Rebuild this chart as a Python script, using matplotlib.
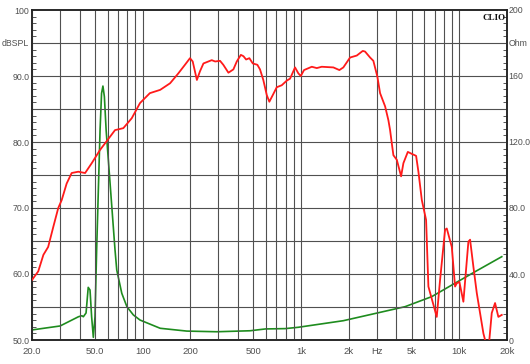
import matplotlib
matplotlib.use("Agg")
import matplotlib.pyplot as plt
from matplotlib.ticker import FixedLocator, NullFormatter

# SPL response (red)
spl_freq = [20, 21.9, 23.6, 25.3, 27.3, 29.3, 30.8, 33.1, 35.6, 39.2, 43.3, 47.7,
            53.8, 66.9, 75.5, 85.3, 96.2, 111, 129, 149, 168, 185, 199, 207, 220,
            230, 242, 260, 273, 287, 308, 323, 348, 374, 393, 417, 433, 450, 472,
            496, 530, 551, 578, 608, 631, 663, 703, 756, 813, 853, 917, 962, 997,
            1045, 1170, 1258, 1352, 1601, 1747, 1851, 2041, 2251, 2455, 2539, 2731,
            2864, 3036, 3158, 3398, 3564, 3653, 3745, 3833, 4028, 4287, 4434, 4728,
            5010, 5333, 5515, 5795, 6166, 6377, 7200, 7556, 8127, 8331, 8960, 9398,
            9637, 10008, 10606, 11408, 11692, 12268, 12891, 14189, 14906, 15400,
            16025, 16813, 17639, 18535]
spl_db = [59.1, 60.4, 62.9, 64.1, 67.2, 70.0, 71.2, 73.7, 75.3, 75.5, 75.3, 76.8,
          78.8, 81.8, 82.1, 83.6, 85.9, 87.4, 87.9, 88.9, 90.4, 91.7, 92.7, 92.2, 89.4,
          90.7, 91.9, 92.2, 92.4, 92.2, 92.3, 91.7, 90.5, 91.0, 92.2, 93.2, 93.0, 92.5, 92.7,
          91.9, 91.7, 91.0, 89.4, 87.1, 86.1, 87.1, 88.3, 88.6, 89.3, 89.6, 91.3, 90.4, 90.0,
          90.9, 91.4, 91.2, 91.4, 91.3, 90.9, 91.3, 92.8, 93.1, 93.8, 93.7, 92.8,
          92.3, 89.9, 87.4, 85.4, 83.3, 81.8, 79.8, 78.0, 77.3, 74.8, 76.8, 78.5,
          78.2, 77.9, 75.5, 71.2, 68.2, 58.1, 53.5, 59.1, 66.7, 66.9, 64.1, 58.1,
          58.6, 58.8, 55.8, 64.9, 65.2, 61.1, 57.1, 51.0, 49.0, 49.5,
          54.1, 55.6, 53.5, 53.8]

# impedance (green), ohm
imp_freq = [20, 30.1, 39.3, 41.3, 42.2, 43.9, 45.3, 46.5, 47.6, 48.8, 50, 51.2,
            53.8, 55, 56.1, 57.3, 58.8, 66.9, 68.6, 73.8, 79.5, 87.3, 96.2, 129,
            190, 293, 477, 596, 794, 960, 1851, 2795, 4543, 6699, 8960, 12573, 18535]
imp_ohm = [6.1, 8.5, 14.1, 14.7, 14.1, 16.4, 31.9, 30.3, 14.1, 1.6, 14.1, 54.5,
           127, 149.5, 153.9, 147.5, 127, 54.5, 42.4, 28.3, 20.2, 15.2, 12.1, 7.1,
           5.4, 5.0, 5.6, 6.7, 6.9, 7.7, 11.7, 15.6, 20.2, 26.3, 33.3, 41.4, 50.5]

x_grid = [20, 30, 40, 50, 60, 70, 80, 90, 100, 200, 300, 400, 500, 600, 700, 800, 900,
          1000, 2000, 3000, 4000, 5000, 6000, 7000, 8000, 9000, 10000, 20000]
x_lab_pos = [20, 50, 100, 200, 500, 1000, 2000, 3000, 5000, 10000, 20000]
x_lab = ["20.0", "50.0", "100", "200", "500", "1k", "2k", "Hz", "5k", "10k", "20k"]
db_ticks = [50, 55, 60, 65, 70, 75, 80, 85, 90, 95, 100]
db_lab = ["50.0", "", "60.0", "", "70.0", "", "80.0", "", "90.0", "dBSPL", "100"]
ohm_ticks = [0, 20, 40, 60, 80, 100, 120, 140, 160, 180, 200]
ohm_lab = ["0", "", "40.0", "", "80.0", "", "120.0", "", "160", "Ohm", "200"]

plt.rcParams["font.family"] = ["Liberation Sans", "DejaVu Sans"]
txt = "#505050"
gridc = "#505050"
fs = 6.3

fig = plt.figure(figsize=(5.30, 3.64), dpi=100)
ax = fig.add_axes([32 / 530, 24 / 364, 475 / 530, 330 / 364])
ax2 = ax.twinx()

ax.set_xscale("log")
ax.set_xlim(20, 20000)
ax.set_ylim(50, 100)
ax2.set_ylim(0, 200)

for f in x_grid:
    ax.axvline(f, color=gridc, lw=0.8, zorder=1)
for d in db_ticks[1:-1]:
    ax.axhline(d, color=gridc, lw=0.8, zorder=1)

ax2.plot(imp_freq, imp_ohm, color="#1e8c1e", lw=1.2, zorder=3)
ax.plot(spl_freq, spl_db, color="#ff1a1a", lw=1.3, zorder=4)
ax.set_zorder(ax2.get_zorder() + 1)
ax.patch.set_visible(False)

ax.xaxis.set_major_locator(FixedLocator(x_lab_pos))
ax.xaxis.set_minor_locator(FixedLocator([]))
ax.set_xticklabels(x_lab)
ax.xaxis.set_minor_formatter(NullFormatter())
ax.tick_params(axis="x", length=0, pad=5, labelsize=fs + 0.5, labelcolor=txt)

ax.set_yticks(db_ticks)
ax.set_yticklabels(db_lab)
ax.set_yticks(range(50, 101), minor=True)
ax.tick_params(axis="y", which="major", direction="in", length=0, pad=2,
               labelsize=fs, labelcolor=txt)
ax.tick_params(axis="y", which="minor", direction="in", length=3, width=0.7, color="#555555")

ax2.set_yticks(ohm_ticks)
ax2.set_yticklabels(ohm_lab)
ax2.set_yticks(range(0, 201, 4), minor=True)
ax2.tick_params(axis="y", which="major", direction="in", length=0, pad=1,
                labelsize=fs, labelcolor=txt)
ax2.tick_params(axis="y", which="minor", direction="in", length=3, width=0.7, color="#555555")

for a in (ax, ax2):
    for s in a.spines.values():
        s.set_color("#222222")
        s.set_linewidth(1.1)

ax.text(0.998, 0.988, "CLIO", transform=ax.transAxes, ha="right", va="top",
        fontsize=6.5, fontweight="bold", family="Liberation Serif", color="#111111", zorder=6)

fig.savefig("out.png", dpi=100)
